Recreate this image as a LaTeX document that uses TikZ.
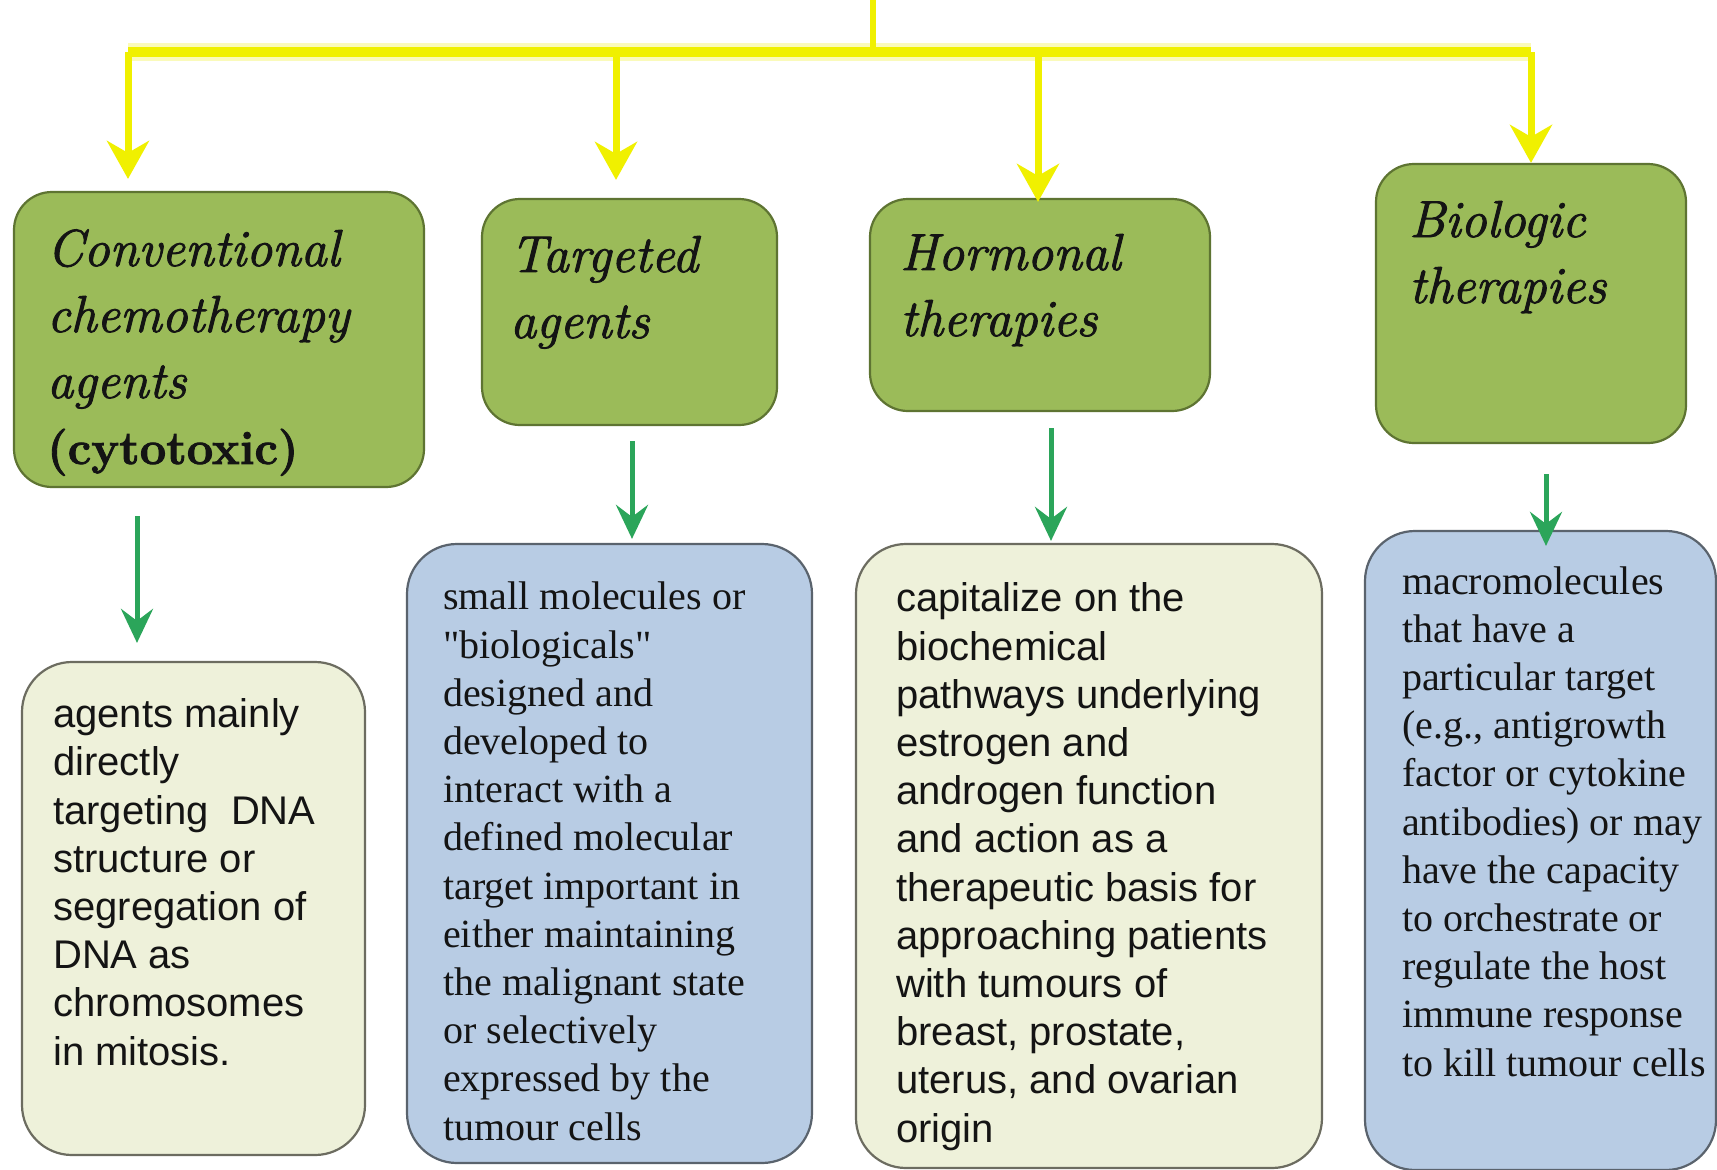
\documentclass[tikz,border=0pt]{standalone}
\usepackage{fontspec}
\newfontfamily\arialf{Liberation Sans}
\newfontfamily\timesf{Liberation Serif}
\newfontfamily\headf[FakeBold=1.8]{Latin Modern Roman}
\usetikzlibrary{arrows.meta}
\definecolor{gfill}{HTML}{9BBB59}
\definecolor{gline}{HTML}{5E7432}
\definecolor{cfill}{HTML}{EEF1DA}
\definecolor{cline}{HTML}{6C6C60}
\definecolor{bfill}{HTML}{B8CCE4}
\definecolor{bline}{HTML}{5A636D}
\definecolor{ylw}{HTML}{F0F000}
\definecolor{grn}{HTML}{2BA55A}
\definecolor{ink}{HTML}{141414}
\begin{document}
\begin{tikzpicture}[x=1pt,y=-1pt,
  gbox/.style={draw=gline, fill=gfill, line width=2.2pt, rounded corners=38pt, inner sep=0pt},
  cbox/.style={draw=cline, fill=cfill, line width=2.2pt, rounded corners=50pt, inner sep=0pt},
  bbox/.style={draw=bline, fill=bfill, line width=2.2pt, rounded corners=50pt, inner sep=0pt},
  txt/.style={anchor=base west, align=left, inner sep=0pt, text=ink},
  headtxt/.style={txt, font=\headf\fontsize{52}{66}\selectfont\itshape},
  sanstxt/.style={txt, font=\arialf\fontsize{40}{48.2}\selectfont},
  seriftxt/.style={txt, font=\timesf\fontsize{40}{48.2}\selectfont},
  yglow/.style={draw=ylw!45, line width=18pt, opacity=0.6},
  ybus/.style={draw=ylw, line width=10pt},
  ystem/.style={draw=ylw, line width=6pt},
  yarrow/.style={draw=ylw, line width=7pt, -{Stealth[length=38pt,width=42pt,inset=12pt]}},
  garrow/.style={draw=grn, line width=5pt, -{Stealth[length=34pt,width=32pt,inset=12pt]}}
]
\useasboundingbox (0,0) rectangle (1717,1170);
\fill[white] (0,0) rectangle (1717,1170);

% category boxes
\node[gbox, minimum width=410pt, minimum height=295pt] (g1) at (219,339.5) {};
\node[gbox, minimum width=295pt, minimum height=226pt] (g2) at (629.5,312) {};
\node[gbox, minimum width=340pt, minimum height=212pt] (g3) at (1040,305) {};
\node[gbox, minimum width=310pt, minimum height=279pt] (g4) at (1531,303.5) {};

% description boxes
\node[cbox, minimum width=343pt, minimum height=493pt] (d1) at (193.5,908.5) {};
\node[bbox, minimum width=405pt, minimum height=619pt] (d2) at (609.5,853.5) {};
\node[cbox, minimum width=466pt, minimum height=624pt] (d3) at (1089,856) {};
\node[bbox, minimum width=351pt, minimum height=639pt] (d4) at (1540.5,850.5) {};

% heading texts (anchored at the baseline of their last line)
\node[headtxt] (h1) at (47,464) {Conventional\\chemotherapy\\agents\\{\upshape\bfseries\fontsize{47}{66}\selectfont (cytotoxic)}};
\node[headtxt] (h2) at (510,338) {Targeted\\agents};
\node[headtxt] (h3) at (900,336) {Hormonal\\therapies};
\node[headtxt] (h4) at (1409,303) {Biologic\\therapies};

% description texts (anchored at the baseline of their last line)
\node[sanstxt] (t1) at (53,1065) {agents mainly\\directly\\targeting\ \ DNA\\structure or\\segregation of\\DNA as\\chromosomes\\in mitosis.};
\node[seriftxt] (t2) at (443,1140) {small molecules or\\"biologicals"\\designed and\\developed to\\interact with a\\defined molecular\\target important in\\either maintaining\\the malignant state\\or selectively\\expressed by the\\tumour cells};
\node[sanstxt] (t3) at (896,1142) {capitalize on the\\biochemical\\pathways underlying\\estrogen and\\androgen function\\and action as a\\therapeutic basis for\\approaching patients\\with tumours of\\breast, prostate,\\uterus, and ovarian\\origin};
\node[seriftxt] (t4) at (1402,1076) {macromolecules\\that have a\\particular target\\(e.g., antigrowth\\factor or cytokine\\antibodies) or may\\have the capacity\\to orchestrate or\\regulate the host\\immune response\\to kill tumour cells};

% yellow distribution bus
\coordinate (root) at (873,0);
\coordinate (busM) at (873,52);
\coordinate (y1) at (128,52);
\coordinate (y2) at (616,52);
\coordinate (y3) at (1038,52);
\coordinate (y4) at (1531,52);
\draw[yglow] (y1) -- (y4);
\draw[ybus] (y1) -- (y4);
\draw[ystem] (root) -- (busM);
\draw[yarrow, shorten >=12pt] (y1) -- (y1 |- g1.north);
\draw[yarrow, shorten >=18pt] (y2) -- (y2 |- g2.north);
\draw[yarrow, shorten >=-4pt] (y3) -- (y3 |- g3.north);
\draw[yarrow] (y4) -- (y4 |- g4.north);

% green arrows
\coordinate (xa1) at (137,0);
\coordinate (xa2) at (632,0);
\coordinate (xa3) at (1051,0);
\coordinate (xa4) at (1546,0);
\draw[garrow, shorten <=28pt, shorten >=18pt] (g1.south -| xa1) -- (d1.north -| xa1);
\draw[garrow, shorten <=15pt, shorten >=4pt] (g2.south -| xa2) -- (d2.north -| xa2);
\draw[garrow, shorten <=16pt, shorten >=2pt] (g3.south -| xa3) -- (d3.north -| xa3);
\draw[garrow, shorten <=30pt, shorten >=-16pt] (g4.south -| xa4) -- (d4.north -| xa4);
\end{tikzpicture}
\end{document}
